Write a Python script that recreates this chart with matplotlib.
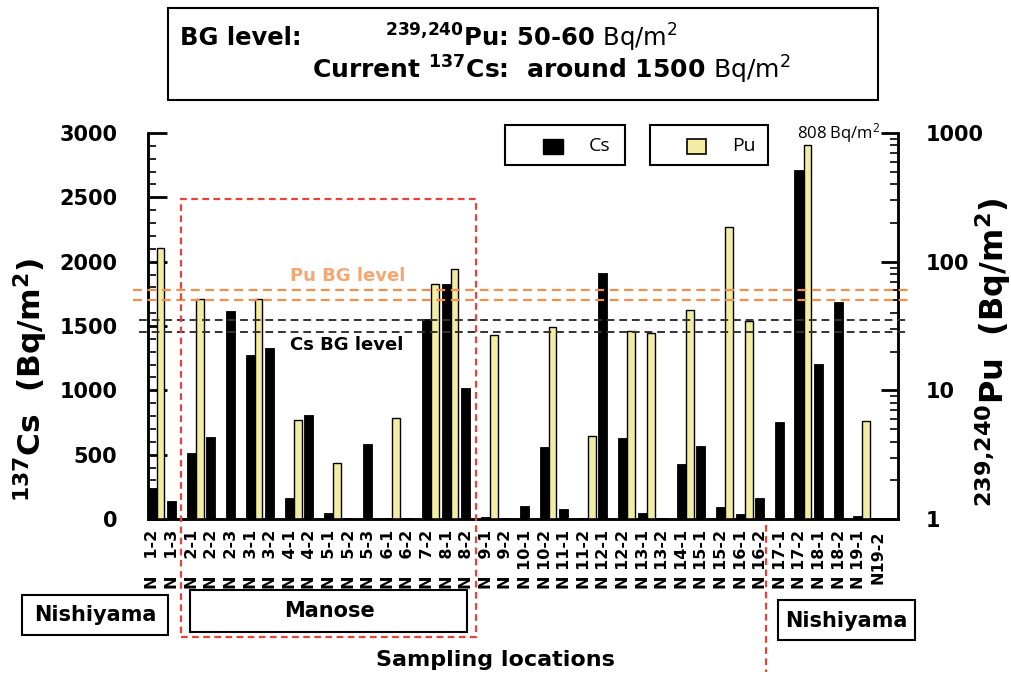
import numpy as np
import matplotlib.pyplot as plt
import matplotlib.transforms as mtransforms
from matplotlib.patches import Rectangle
from matplotlib.lines import Line2D
from matplotlib.ticker import MultipleLocator, LogLocator, NullFormatter

plt.rcParams['font.family'] = ['DejaVu Sans']
plt.rcParams['font.weight'] = 'bold'
plt.rcParams['axes.labelweight'] = 'bold'
plt.rcParams['mathtext.default'] = 'regular'
plt.rcParams['mathtext.fontset'] = 'custom'
plt.rcParams['mathtext.rm'] = 'DejaVu Sans:weight=normal'

# sampling locations (x axis)
locations = ['N 1-2', 'N 1-3', 'N 2-1', 'N 2-2', 'N 2-3', 'N 3-1', 'N 3-2', 'N 4-1',
             'N 4-2', 'N 5-1', 'N 5-2', 'N 5-3', 'N 6-1', 'N 6-2', 'N 7-2', 'N 8-1',
             'N 8-2', 'N 9-1', 'N 9-2', 'N 10-1', 'N 10-2', 'N 11-1', 'N 11-2', 'N 12-1',
             'N 12-2', 'N 13-1', 'N 13-2', 'N 14-1', 'N 15-1', 'N 15-2', 'N 16-1', 'N 16-2',
             'N 17-1', 'N 17-2', 'N 18-1', 'N 18-2', 'N 19-1', 'N19-2']

# 137Cs, Bq/m2 (left, linear)
cs_values = [243, 140, 510, 635, 1619, 1274, 1331, 166, 811, 46, 10, 583, 10, 8,
             1551, 1826, 1020, 12, 8, 101, 557, 77, 10, 1909, 627, 44, 10, 430,
             568, 92, 39, 164, 751, 2712, 1204, 1689, 20, 10]

# 239,240Pu, Bq/m2 (right, log) - nan = no bar
nan = np.nan
pu_values = [128, nan, 51, nan, nan, 51, nan, 5.9, nan, 2.7, nan, nan, 6.1, nan,
             67, 88, nan, 27, nan, nan, 31, nan, 4.4, nan, 29, 28, nan, 42,
             nan, 185, 34.5, nan, nan, 808, nan, nan, 5.8, nan]

cs_bg = [1450, 1550]
pu_bg = [50, 60]

W, H = 1011, 679


def fx(x):
    return x / W


def fy(y):
    return 1 - y / H


def pad_label(s):
    # "N" sits at the bottom, the number at the top
    if s.startswith('N ') and len(s) == 5:
        return s.replace('N ', 'N   ')
    return s


fig = plt.figure(figsize=(W / 100, H / 100), dpi=100)
ax = fig.add_axes([fx(148), fy(519), fx(898) - fx(148), fy(133) - fy(519)])
ax2 = ax.twinx()

x = np.arange(len(locations))
ax.bar(x - 0.05, cs_values, width=0.46, color='black', edgecolor='black', lw=0.6)

pu = np.array(pu_values, dtype=float)
m = ~np.isnan(pu)
ax2.bar(x[m] + 0.38, pu[m] - 1, bottom=1, width=0.4, color='#f2eda2',
        edgecolor='black', lw=1.0)

# background level lines (on top axes so they cross the bars)
ax2.hlines(pu_bg, -1.0, 38.5, colors='#f0904a', linestyles=(0, (4, 2.5)), lw=1.6,
           clip_on=False, zorder=5)
ax2.hlines(cs_bg, -0.7, 38.4, colors='#333333', linestyles=(0, (4, 2.5)), lw=1.4,
           clip_on=False, zorder=5, transform=ax.transData)
ax2.text(9.95, 78, 'Pu BG level', color='#f4a774', fontsize=13, ha='center',
         va='center', zorder=6)
ax2.text(9.9, 1352, 'Cs BG level', color='black', fontsize=13, ha='center',
         va='center', zorder=6, transform=ax.transData)
ax2.text(35.0, 1000, '808 Bq/m$^2$', fontsize=12, ha='center', va='center',
         family='Open Sans', fontweight='normal', zorder=6)

# axes
ax.set_xlim(-0.255, 38.0)
ax.set_ylim(0, 3000)
ax2.set_yscale('log')
ax2.set_ylim(1, 1000)

ax.set_xticks(x)
ax.set_xticklabels([pad_label(s) for s in locations], rotation=90, fontsize=11.5)
ax.tick_params(axis='x', length=0, pad=8)

ax.yaxis.set_major_locator(MultipleLocator(500))
ax.yaxis.set_minor_locator(MultipleLocator(100))
ax.tick_params(axis='y', which='major', direction='in', length=14, width=2,
               pad=22, labelsize=15)
ax.tick_params(axis='y', which='minor', direction='in', length=6, width=1.2)

ax2.set_yticks([1, 10, 100, 1000])
ax2.set_yticklabels(['1', '10', '100', '1000'])
ax2.yaxis.set_minor_locator(LogLocator(base=10, subs=np.arange(2, 10)))
ax2.yaxis.set_minor_formatter(NullFormatter())
ax2.tick_params(axis='y', which='major', direction='in', length=12, width=2,
                pad=20, labelsize=15)
ax2.tick_params(axis='y', which='minor', direction='in', length=6, width=1.2)

for a in (ax, ax2):
    a.spines['top'].set_visible(False)
    for s in ('left', 'right', 'bottom'):
        a.spines[s].set_linewidth(1.8)

ax.set_ylabel('$^{137}$Cs  (Bq/m$^2$)', fontsize=22.5, fontweight='bold')
ax.yaxis.set_label_coords(-0.13, 0.36)
ax2.set_ylabel('$^{239{,}240}$Pu  (Bq/m$^2$)', fontsize=23, fontweight='bold',
               rotation=90)
ax2.yaxis.set_label_coords(1.10, 0.433)


# legend boxes
def box(x0, y0, x1, y1, lw=1.5, **kw):
    fig.add_artist(Rectangle((fx(x0), fy(y1)), fx(x1) - fx(x0), fy(y0) - fy(y1),
                             transform=fig.transFigure, fill=False, ec='black',
                             lw=lw, **kw))


box(505, 125, 625, 165)
fig.add_artist(Rectangle((fx(543), fy(154)), fx(20), fy(139) - fy(154),
                         transform=fig.transFigure, fc='black', ec='black'))
fig.text(fx(600), fy(146), 'Cs', fontsize=14, family='Open Sans',
         fontweight='normal', ha='center', va='center')
box(650, 125, 768, 165)
fig.add_artist(Rectangle((fx(687), fy(154)), fx(19), fy(139) - fy(154),
                         transform=fig.transFigure, fc='#f2eda2', ec='black', lw=1.2))
fig.text(fx(744), fy(146), 'Pu', fontsize=14, family='Open Sans',
         fontweight='normal', ha='center', va='center')

# top note
box(168, 8, 878, 100)
fig.text(fx(180), fy(38), 'BG level:', fontsize=17.5, va='center')
fig.text(fx(385), fy(38), r'$^{239{,}240}$Pu: 50-60 $\mathrm{Bq/m^2}$', fontsize=17.5,
         va='center')
fig.text(fx(312), fy(70), r'Current $^{137}$Cs:  around 1500 $\mathrm{Bq/m^2}$',
         fontsize=18, va='center')

# region labels
box(22, 595, 168, 635)
fig.text(fx(95), fy(615), 'Nishiyama', fontsize=15, ha='center', va='center')
box(190, 590, 467, 632)
fig.text(fx(330), fy(611), 'Manose', fontsize=15, ha='center', va='center')
box(778, 600, 915, 640)
fig.text(fx(846), fy(621), 'Nishiyama', fontsize=15, ha='center', va='center')
fig.text(fx(495), fy(660), 'Sampling locations', fontsize=16, ha='center',
         va='center')

# red dashed region marks
blend = mtransforms.blended_transform_factory(ax.transData, fig.transFigure)
fig.add_artist(Rectangle((1.43, fy(637)), 15.05, fy(199) - fy(637), transform=blend,
                         fill=False, ec='#e8403a', ls=(0, (3, 2)), lw=1.6, zorder=3))
fig.add_artist(Line2D([31.27, 31.27], [fy(525), fy(672)], transform=blend,
                      color='#e8403a', ls=(0, (3, 2)), lw=1.6, zorder=3))

fig.savefig('out.png', dpi=100)
